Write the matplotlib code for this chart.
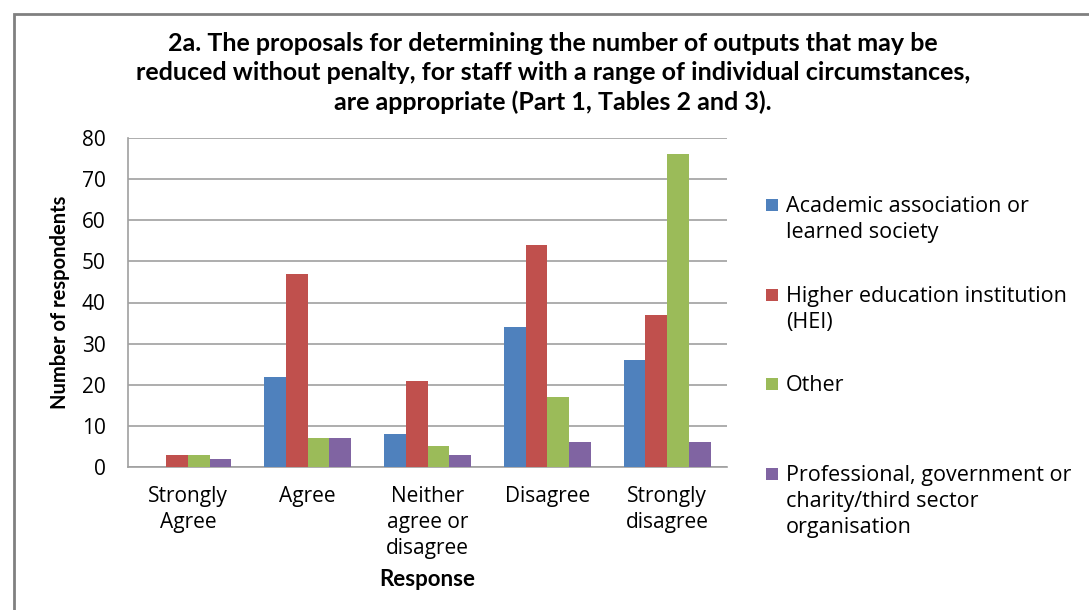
import matplotlib
matplotlib.use("Agg")
import matplotlib.pyplot as plt
import numpy as np
from matplotlib.patches import Rectangle

categories = ["Strongly\nAgree", "Agree", "Neither\nagree or\ndisagree", "Disagree", "Strongly\ndisagree"]
series_names = ["Academic association or\nlearned society",
                "Higher education institution\n(HEI)",
                "Other",
                "Professional, government or\ncharity/third sector\norganisation"]
academic = [0, 22, 8, 34, 26]
hei = [3, 47, 21, 54, 37]
other = [3, 7, 5, 17, 76]
professional = [2, 7, 3, 6, 6]
colors = ["#4F81BD", "#C0504D", "#9BBB59", "#8064A2"]
yticks = [0, 10, 20, 30, 40, 50, 60, 70, 80]
title = ("2a. The proposals for determining the number of outputs that may be\n"
         "reduced without penalty, for staff with a range of individual circumstances,\n"
         "are appropriate (Part 1, Tables 2 and 3).")

W, H = 1089, 610
fig = plt.figure(figsize=(W / 100, H / 100), dpi=100)
font = "Open Sans"

# outer frame
fig.add_artist(Rectangle((14 / W, -0.05), 1.2, 1 - 14 / H + 0.05, transform=fig.transFigure,
                         fill=False, edgecolor="#808080", lw=2))

ax = fig.add_axes([128 / W, 1 - 467 / H, (727 - 128) / W, (467 - 138) / H])
data = [academic, hei, other, professional]
x = np.arange(len(categories))
bw = 1 / 5.5
for i, (vals, c) in enumerate(zip(data, colors)):
    ax.bar(x + (i - 1.5) * bw, vals, width=bw, color=c, edgecolor="none", zorder=3)

ax.set_xlim(-0.5, len(categories) - 0.5)
ax.set_ylim(0, 80)
ax.set_yticks(yticks)
ax.set_yticklabels([str(v) for v in yticks], fontsize=15, family=font)
ax.set_xticks(x)
ax.set_xticklabels(categories, fontsize=15, family=font, linespacing=1.3)
ax.tick_params(length=0)
ax.tick_params(axis="y", pad=16)
ax.tick_params(axis="x", pad=14)
ax.yaxis.grid(True, color="#A0A0A0", lw=1.2, zorder=0)
for s in ["top", "right"]:
    ax.spines[s].set_visible(False)
for s in ["left", "bottom"]:
    ax.spines[s].set_color("#A0A0A0")
    ax.spines[s].set_linewidth(1.2)

fig.text(60 / W, 1 - 302 / H, "Number of respondents", rotation=90, ha="center", va="center",
         fontsize=14.5, fontweight="bold", family="Lato")
fig.text(427 / W, 1 - 579 / H, "Response", ha="center", va="center",
         fontsize=16, fontweight="bold", family="Lato")
fig.text(553 / W, 1 - 73 / H, title, ha="center", va="center", fontsize=18,
         fontweight="bold", family="Lato", linespacing=1.3)

# legend
leg_tops = [205, 295, 384, 474]
for name, c, yt in zip(series_names, colors, leg_tops):
    fig.add_artist(Rectangle((766 / W, 1 - (yt + 6) / H), 12 / W, 12 / H,
                             transform=fig.transFigure, facecolor=c, edgecolor="none"))
    fig.text(786 / W, 1 - (yt - 9) / H, name, ha="left", va="top", fontsize=15.5,
             family=font, linespacing=1.3)

fig.savefig("out.png", dpi=100)
